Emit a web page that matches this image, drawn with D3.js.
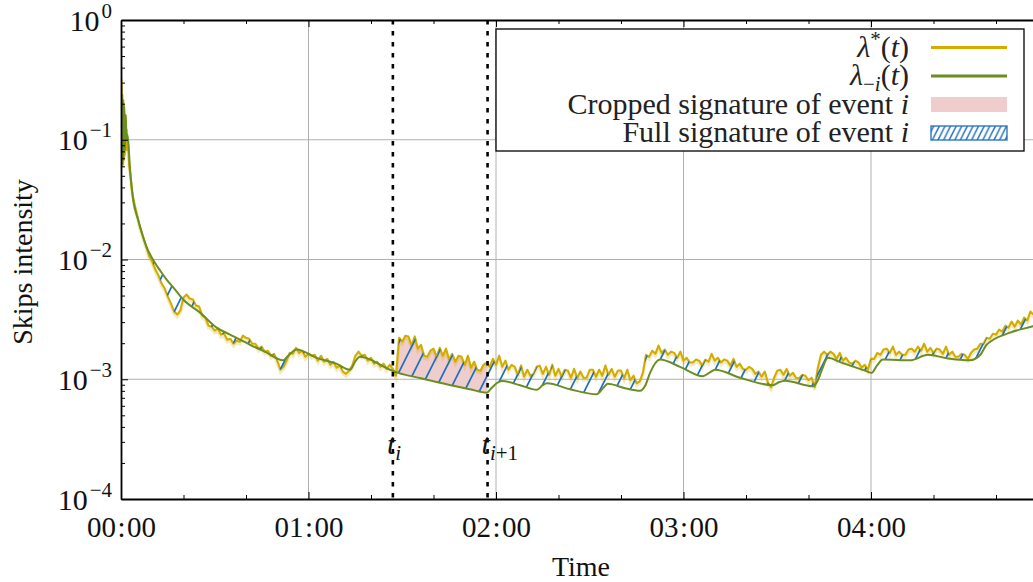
<!DOCTYPE html>
<html>
<head>
<meta charset="utf-8">
<script src="https://cdn.jsdelivr.net/npm/d3@7/dist/d3.min.js"></script>
<style>
  html, body { margin: 0; padding: 0; background: #fff; }
  svg { display: block; }
  svg text { font-family: "Liberation Serif", "Times New Roman", serif; }
</style>
</head>
<body>
<svg id="chart" width="1033" height="582"></svg>
<script>
// ---------------------------------------------------------------
// Data (time in minutes since 00:00, intensity in events / second)
// ---------------------------------------------------------------

// Observed intensity lambda*(t): dense burst at the start, then one value per minute
const starTimes = [0, 0.15, 0.3, 0.45, 0.6, 0.75, 0.9, 1.05, 1.2, 1.4, 1.6, 1.8, 2, 2.3, 2.6, 3, 3.5]
  .concat(d3.range(4, 301));
const starValues = [
  // burst, 0 - 3.5 min
  1.10e-1, 3.15e-1, 8.2e-2, 2.36e-1, 6.2e-2, 2.15e-1, 6.8e-2, 1.84e-1, 7.5e-2, 1.61e-1,
  8.2e-2, 1.21e-1, 8.2e-2, 9.0e-2, 6.2e-2, 5.1e-2, 3.8e-2,
  // 4 - 88 min
  3.15e-2, 2.45e-2, 1.9e-2, 1.57e-2, 1.3e-2, 1.07e-2, 9.62e-3, 8.25e-3, 7.34e-3, 6.3e-3,
  5.72e-3, 4.9e-3, 4.28e-3, 3.67e-3, 3.47e-3, 3.75e-3, 4.81e-3, 5.1e-3, 4.72e-3, 4.63e-3,
  4.12e-3, 4.05e-3, 3.4e-3, 3.27e-3, 2.8e-3, 2.75e-3, 2.55e-3, 2.65e-3, 2.36e-3, 2.4e-3,
  2.14e-3, 2.18e-3, 1.98e-3, 2.1e-3, 2.06e-3, 2.31e-3, 2.22e-3, 2.18e-3, 1.98e-3, 1.98e-3,
  1.8e-3, 1.87e-3, 1.7e-3, 1.73e-3, 1.57e-3, 1.63e-3, 1.43e-3, 1.2e-3, 1.27e-3, 1.43e-3,
  1.66e-3, 1.63e-3, 1.83e-3, 1.66e-3, 1.73e-3, 1.54e-3, 1.63e-3, 1.57e-3, 1.6e-3, 1.43e-3,
  1.57e-3, 1.4e-3, 1.48e-3, 1.32e-3, 1.4e-3, 1.25e-3, 1.3e-3, 1.16e-3, 1.11e-3, 1.18e-3,
  1.3e-3, 1.57e-3, 1.7e-3, 1.57e-3, 1.6e-3, 1.43e-3, 1.51e-3, 1.35e-3, 1.4e-3, 1.27e-3,
  1.35e-3, 1.22e-3, 1.32e-3, 1.22e-3, 1.07e-3,
  // 89 - 168 min
  2.22e-3, 2.06e-3, 2.31e-3, 2.27e-3, 1.91e-3, 2.27e-3, 1.8e-3, 1.94e-3, 1.57e-3, 1.54e-3,
  1.73e-3, 1.8e-3, 1.54e-3, 1.83e-3, 1.57e-3, 1.8e-3, 1.46e-3, 1.63e-3, 1.4e-3, 1.57e-3,
  1.54e-3, 1.32e-3, 1.57e-3, 1.25e-3, 1.4e-3, 1.2e-3, 1.18e-3, 1.32e-3, 1.38e-3, 1.27e-3,
  1.48e-3, 1.32e-3, 1.57e-3, 1.27e-3, 1.43e-3, 1.2e-3, 1.32e-3, 1.27e-3, 1.09e-3, 1.3e-3,
  1.05e-3, 1.2e-3, 1.07e-3, 1.11e-3, 1.27e-3, 1.3e-3, 1.11e-3, 1.27e-3, 1.09e-3, 1.32e-3,
  1.07e-3, 1.22e-3, 1.05e-3, 1.2e-3, 1.18e-3, 1.03e-3, 1.22e-3, 1.02e-3, 1.16e-3, 1.03e-3,
  1.03e-3, 1.2e-3, 1.2e-3, 1.05e-3, 1.2e-3, 1.07e-3, 1.3e-3, 1.09e-3, 1.22e-3, 1.05e-3,
  1.18e-3, 1.18e-3, 1.02e-3, 1.2e-3, 9.81e-4, 1.07e-3, 9.26e-4, 9.62e-4, 1.13e-3, 1.6e-3,
  // 169 - 272 min
  1.54e-3, 1.73e-3, 1.63e-3, 1.91e-3, 1.66e-3, 1.77e-3, 1.6e-3, 1.7e-3, 1.66e-3, 1.51e-3,
  1.7e-3, 1.43e-3, 1.51e-3, 1.38e-3, 1.38e-3, 1.46e-3, 1.43e-3, 1.3e-3, 1.46e-3, 1.4e-3,
  1.63e-3, 1.43e-3, 1.51e-3, 1.38e-3, 1.46e-3, 1.43e-3, 1.3e-3, 1.48e-3, 1.27e-3, 1.35e-3,
  1.22e-3, 1.2e-3, 1.27e-3, 1.22e-3, 1.11e-3, 1.16e-3, 1.05e-3, 1.16e-3, 9.44e-4, 8.57e-4,
  1.03e-3, 1.18e-3, 1.2e-3, 1.09e-3, 1.22e-3, 1.07e-3, 1.13e-3, 1.03e-3, 1.02e-3, 1.09e-3,
  1.07e-3, 9.81e-4, 1.03e-3, 8.57e-4, 1.25e-3, 1.6e-3, 1.7e-3, 1.6e-3, 1.7e-3, 1.63e-3,
  1.48e-3, 1.66e-3, 1.43e-3, 1.51e-3, 1.38e-3, 1.35e-3, 1.43e-3, 1.38e-3, 1.25e-3, 1.32e-3,
  1.2e-3, 1.48e-3, 1.48e-3, 1.66e-3, 1.6e-3, 1.77e-3, 1.8e-3, 1.66e-3, 1.87e-3, 1.6e-3,
  1.7e-3, 1.6e-3, 1.6e-3, 1.77e-3, 1.8e-3, 1.7e-3, 1.87e-3, 1.73e-3, 1.98e-3, 1.7e-3,
  1.83e-3, 1.66e-3, 1.8e-3, 1.77e-3, 1.63e-3, 1.87e-3, 1.6e-3, 1.7e-3, 1.54e-3, 1.54e-3,
  1.63e-3, 1.6e-3, 1.48e-3, 1.66e-3,
  // 273 - 300 min
  1.77e-3, 1.8e-3, 1.98e-3, 1.98e-3, 2.22e-3, 2.18e-3, 2.4e-3, 2.36e-3, 2.6e-3, 2.5e-3,
  2.8e-3, 2.7e-3, 3.03e-3, 2.75e-3, 3.09e-3, 2.86e-3, 3.27e-3, 3.09e-3, 3.67e-3, 3.47e-3,
  3.89e-3, 3.67e-3, 4.2e-3, 3.97e-3, 4.45e-3, 4.2e-3, 4.72e-3, 4.54e-3
];

// Intensity with event i removed, lambda_{-i}(t)
const minusTimes = [
  0, 0.2, 0.4, 0.6, 0.8, 1.0, 1.25, 1.5, 1.8, 2.1, 2.9, 3.9, 5.5, 8.2, 10.9, 12.5, 14.6, 17.3, 19.9, 25.3,
  30.6, 34.9, 41.3, 46, 51.9, 53.5, 56.2, 62.6, 68.9, 73.3, 74.9, 76.5, 86.1, 88.7, 96, 104.2, 111.7, 117,
  118.5, 120.2, 121.9, 127.7, 133.1, 134.9, 136.3, 143.7, 152.2, 154.5, 155.8, 161.3, 166.1, 167.8, 169.3,
  172.5, 178.9, 186.2, 188.2, 190.1, 198.1, 208.6, 210.5, 212.5, 221.4, 223.0, 224.3, 226.2, 230.1, 238.5,
  240.2, 241.9, 243.8, 252.5, 258.2, 264.2, 271.7, 275, 277, 284.5, 291.8, 300
];
const minusValues = [
  8.2e-2, 2.46e-1, 6.2e-2, 2.15e-1, 6.8e-2, 1.95e-1, 8.2e-2, 1.61e-1, 1.0e-1, 1.1e-1, 5.6e-2, 3.15e-2,
  2.14e-2, 1.27e-2, 9.35e-3, 8.09e-3, 6.8e-3, 5.61e-3, 4.63e-3, 3.6e-3,
  2.7e-3, 2.36e-3, 1.94e-3, 1.7e-3, 1.44e-3, 1.57e-3, 1.77e-3, 1.51e-3, 1.35e-3, 1.2e-3, 1.4e-3, 1.54e-3,
  1.2e-3, 1.13e-3, 1.02e-3, 9.08e-4, 8.25e-4, 7.73e-4,
  8.41e-4, 9.26e-4, 9.68e-4, 8.91e-4, 8.17e-4, 8.91e-4, 9.26e-4, 8.25e-4, 7.49e-4, 8.57e-4, 9.17e-4,
  8.41e-4, 8.01e-4, 8.91e-4, 1.13e-3,
  1.46e-3, 1.27e-3, 1.06e-3, 1.13e-3, 1.2e-3, 1.03e-3, 8.91e-4, 9.44e-4, 9.72e-4, 8.74e-4, 9.81e-4,
  1.2e-3, 1.51e-3, 1.39e-3, 1.17e-3,
  1.13e-3, 1.3e-3, 1.46e-3, 1.44e-3, 1.6e-3, 1.5e-3, 1.44e-3, 1.6e-3, 1.94e-3, 2.45e-3, 2.77e-3, 3.27e-3
];

// Event i and the following event i+1 (minutes)
const eventTimes = [87, 117.3];

// Axis ticks
const hourTicks = [0, 60, 120, 180, 240];
const hourLabels = ["00:00", "01:00", "02:00", "03:00", "04:00"];
const minorTimeTicks = [20, 40, 80, 100, 140, 160, 200, 220, 260, 280];
const decadeTicks = [1e-4, 1e-3, 1e-2, 1e-1, 1];
const decadeExponents = ["\u22124", "\u22123", "\u22122", "\u22121", "0"];

// ---------------------------------------------------------------
// Layout and styles
// ---------------------------------------------------------------
const FONT = "'Liberation Serif', 'Times New Roman', serif";
const COL_STAR = "#d2ad00";
const COL_MINUS = "#6b8e23";
const COL_PINK = "#f0cdcd";
const COL_HATCH = "#1f6fbf";
const COL_GRID = "#b0b0b0";

const plot = { left: 121, top: 20, bottom: 499, right: 1058.5 };

const svg = d3.select("#chart");
const x = d3.scaleLinear().domain([0, 300]).range([plot.left, plot.right]);
const y = d3.scaleLog().domain([1e-4, 1]).range([plot.bottom, plot.top]);

const starData = starTimes.map((t, i) => ({ t, v: starValues[i] }));
const minusData = minusTimes.map((t, i) => ({ t, v: minusValues[i] }));

svg.append("rect").attr("width", 1033).attr("height", 582).attr("fill", "#fff");

// Curve generators
const belowStar = d3.area().x(d => x(d.t)).y0(plot.bottom).y1(d => y(d.v)).curve(d3.curveLinear);
const aboveStar = d3.area().x(d => x(d.t)).y0(plot.top).y1(d => y(d.v)).curve(d3.curveLinear);
const belowMinus = d3.area().x(d => x(d.t)).y0(plot.bottom).y1(d => y(d.v)).curve(d3.curveMonotoneX);
const aboveMinus = d3.area().x(d => x(d.t)).y0(plot.top).y1(d => y(d.v)).curve(d3.curveMonotoneX);
const lineStar = d3.line().x(d => x(d.t)).y(d => y(d.v)).curve(d3.curveLinear);
const lineMinus = d3.line().x(d => x(d.t)).y(d => y(d.v)).curve(d3.curveMonotoneX);

const defs = svg.append("defs");
defs.append("clipPath").attr("id", "plotClip")
  .append("rect")
  .attr("x", plot.left).attr("y", plot.top)
  .attr("width", plot.right - plot.left).attr("height", plot.bottom - plot.top);
defs.append("clipPath").attr("id", "windowClip")
  .append("rect")
  .attr("x", x(eventTimes[0])).attr("y", plot.top)
  .attr("width", x(eventTimes[1]) - x(eventTimes[0])).attr("height", plot.bottom - plot.top);
defs.append("clipPath").attr("id", "aboveMinusClip")
  .append("path").attr("d", aboveMinus(minusData));
defs.append("clipPath").attr("id", "aboveStarClip")
  .append("path").attr("d", aboveStar(starData));

function hatchPattern(id, w, sw) {
  const h = 2 * w;
  const p = defs.append("pattern").attr("id", id)
    .attr("patternUnits", "userSpaceOnUse")
    .attr("width", w).attr("height", h);
  p.append("path")
    .attr("d", `M0,${h} L${w},0 M${-w * 0.2},${h * 0.2} L${w * 0.2},${-h * 0.2} M${w * 0.8},${h * 1.2} L${w * 1.2},${h * 0.8}`)
    .attr("stroke", COL_HATCH).attr("stroke-width", sw).attr("fill", "none");
}
hatchPattern("hatchMain", 15, 1.7);
hatchPattern("hatchLegend", 5.6, 1.4);

// ---------------------------------------------------------------
// Grid
// ---------------------------------------------------------------
const grid = svg.append("g").attr("stroke", COL_GRID).attr("stroke-width", 1);
grid.selectAll("line.v").data(hourTicks.filter(d => d > 0)).join("line")
  .attr("x1", d => x(d)).attr("x2", d => x(d))
  .attr("y1", plot.top).attr("y2", plot.bottom);
grid.selectAll("line.h").data(decadeTicks.filter(d => d > 1e-4 && d < 1)).join("line")
  .attr("x1", plot.left).attr("x2", plot.right)
  .attr("y1", d => y(d)).attr("y2", d => y(d));

// ---------------------------------------------------------------
// Signatures (region between the two intensities) and curves
// ---------------------------------------------------------------
const marks = svg.append("g").attr("clip-path", "url(#plotClip)");

// region between the curves = (below lambda* and above lambda_-i) + (below lambda_-i and above lambda*)
function betweenFill(parent, fill) {
  parent.append("g").attr("clip-path", "url(#aboveMinusClip)")
    .append("path").attr("d", belowStar(starData)).attr("fill", fill);
  parent.append("g").attr("clip-path", "url(#aboveStarClip)")
    .append("path").attr("d", belowMinus(minusData)).attr("fill", fill);
}

// cropped signature: between t_i and t_{i+1}
betweenFill(marks.append("g").attr("clip-path", "url(#windowClip)"), COL_PINK);

// soft band under the fast-oscillating observed intensity
marks.append("path")
  .attr("d", lineStar(starData))
  .attr("transform", "translate(0,2.5)")
  .attr("fill", "none").attr("stroke", COL_STAR)
  .attr("stroke-width", 3).attr("stroke-opacity", 0.25);

// observed intensity
marks.append("path")
  .attr("d", lineStar(starData))
  .attr("fill", "none").attr("stroke", COL_STAR)
  .attr("stroke-width", 2.1).attr("stroke-linejoin", "round");

// full signature hatch
betweenFill(marks.append("g"), "url(#hatchMain)");

// intensity without event i
marks.append("path")
  .attr("d", lineMinus(minusData))
  .attr("fill", "none").attr("stroke", COL_MINUS)
  .attr("stroke-width", 2);

// Event markers
svg.append("g").selectAll("line").data(eventTimes).join("line")
  .attr("x1", d => x(d)).attr("x2", d => x(d))
  .attr("y1", plot.top).attr("y2", plot.bottom)
  .attr("stroke", "#000").attr("stroke-width", 2.6)
  .attr("stroke-dasharray", "4.5 6.5");

// ---------------------------------------------------------------
// Axes
// ---------------------------------------------------------------
function styleAxis(g, hideDomain) {
  g.attr("font-family", FONT).attr("font-size", null);
  g.selectAll(".tick line").attr("stroke", "#000").attr("stroke-width", 1);
  g.select(".domain").attr("stroke", "#000").attr("stroke-width", 1.8)
    .attr("display", hideDomain ? "none" : null);
  g.selectAll(".tick text").remove();
}

const xBottom = svg.append("g").attr("transform", `translate(0,${plot.bottom})`)
  .call(d3.axisBottom(x).tickValues(hourTicks).tickSizeInner(-7).tickSizeOuter(0));
styleAxis(xBottom, false);
const xBottomMinor = svg.append("g").attr("transform", `translate(0,${plot.bottom})`)
  .call(d3.axisBottom(x).tickValues(minorTimeTicks).tickSizeInner(-4).tickSizeOuter(0));
styleAxis(xBottomMinor, true);

const xTop = svg.append("g").attr("transform", `translate(0,${plot.top})`)
  .call(d3.axisTop(x).tickValues(hourTicks).tickSizeInner(-7).tickSizeOuter(0));
styleAxis(xTop, false);
const xTopMinor = svg.append("g").attr("transform", `translate(0,${plot.top})`)
  .call(d3.axisTop(x).tickValues(minorTimeTicks).tickSizeInner(-4).tickSizeOuter(0));
styleAxis(xTopMinor, true);

const minorDecades = [];
for (let e = -4; e < 0; e++) for (let k = 2; k <= 9; k++) minorDecades.push(k * Math.pow(10, e));

const yLeft = svg.append("g").attr("transform", `translate(${plot.left},0)`)
  .call(d3.axisLeft(y).tickValues(decadeTicks).tickSizeInner(-7).tickSizeOuter(0));
styleAxis(yLeft, false);
const yLeftMinor = svg.append("g").attr("transform", `translate(${plot.left},0)`)
  .call(d3.axisLeft(y).tickValues(minorDecades).tickSizeInner(-4).tickSizeOuter(0));
styleAxis(yLeftMinor, true);

// Rich text made of styled runs
function runs(textSel, parts) {
  parts.forEach(p => {
    const t = textSel.append("tspan").text(p.text);
    if (p.italic) t.attr("font-style", "italic");
    if (p.size) t.attr("font-size", p.size);
    if (p.dx) t.attr("dx", p.dx);
    if (p.dy) t.attr("dy", p.dy);
  });
}

xBottom.selectAll(".tick").each(function (d) {
  const label = hourLabels[hourTicks.indexOf(d)];
  const [hh, mm] = label.split(":");
  const t = d3.select(this).append("text")
    .attr("y", 38).attr("text-anchor", "middle")
    .attr("font-family", FONT).attr("font-size", 29).attr("fill", "#111");
  runs(t, [{ text: hh }, { text: ":", dx: 1.5 }, { text: mm, dx: 1.5 }]);
});

yLeft.selectAll(".tick").each(function (d) {
  const exp = decadeExponents[decadeTicks.indexOf(d)];
  const t = d3.select(this).append("text")
    .attr("x", -9).attr("y", 10).attr("text-anchor", "end")
    .attr("font-family", FONT).attr("font-size", 30).attr("fill", "#111");
  runs(t, [{ text: "10" }, { text: exp, size: 21, dx: 2, dy: -13 }]);
});

// Axis titles
svg.append("text")
  .attr("x", 581).attr("y", 576).attr("text-anchor", "middle")
  .attr("font-family", FONT).attr("font-size", 28).attr("fill", "#111").text("Time");
svg.append("text")
  .attr("transform", "translate(32,262) rotate(-90)").attr("text-anchor", "middle")
  .attr("font-family", FONT).attr("font-size", 28).attr("fill", "#111").text("Skips intensity");

// Event labels t_i and t_{i+1}
const eventLabelRuns = [
  [{ text: "t", italic: true }, { text: "i", italic: true, size: 21, dy: 6 }],
  [{ text: "t", italic: true }, { text: "i", italic: true, size: 21, dy: 6 }, { text: "+1", size: 21 }]
];
eventTimes.forEach((tv, i) => {
  const t = svg.append("text")
    .attr("x", x(tv) - 6).attr("y", 454)
    .attr("font-family", FONT).attr("font-size", 30).attr("fill", "#111");
  runs(t, eventLabelRuns[i]);
});

// ---------------------------------------------------------------
// Legend
// ---------------------------------------------------------------
const legend = svg.append("g");
legend.append("rect")
  .attr("x", 496).attr("y", 29).attr("width", 528).attr("height", 122)
  .attr("fill", "#fff").attr("stroke", "#000").attr("stroke-width", 1.3);

const handleX0 = 931, handleX1 = 1007, textRight = 909;
const rowY = [47.5, 76, 104.5, 133];

legend.append("line").attr("x1", handleX0).attr("x2", handleX1)
  .attr("y1", rowY[0]).attr("y2", rowY[0]).attr("stroke", COL_STAR).attr("stroke-width", 3);
legend.append("line").attr("x1", handleX0).attr("x2", handleX1)
  .attr("y1", rowY[1]).attr("y2", rowY[1]).attr("stroke", COL_MINUS).attr("stroke-width", 3);
legend.append("rect").attr("x", handleX0).attr("y", rowY[2] - 7.5)
  .attr("width", handleX1 - handleX0).attr("height", 15).attr("fill", COL_PINK);
legend.append("rect").attr("x", handleX0).attr("y", rowY[3] - 7)
  .attr("width", handleX1 - handleX0).attr("height", 14)
  .attr("fill", "url(#hatchLegend)").attr("stroke", COL_HATCH).attr("stroke-width", 1.3);

const legendRows = [
  [{ text: "\u03bb", italic: true }, { text: "*", size: 21, dy: -11 }, { text: "(", dy: 11 }, { text: "t", italic: true }, { text: ")" }],
  [{ text: "\u03bb", italic: true }, { text: "\u2212", size: 21, dy: 6 }, { text: "i", italic: true, size: 21 }, { text: "(", dy: -6 }, { text: "t", italic: true }, { text: ")" }],
  [{ text: "Cropped signature of event " }, { text: "i", italic: true }],
  [{ text: "Full signature of event " }, { text: "i", italic: true }]
];
legendRows.forEach((parts, i) => {
  const t = legend.append("text")
    .attr("x", textRight).attr("y", rowY[i] + 9)
    .attr("text-anchor", "end")
    .attr("font-family", FONT).attr("font-size", 30).attr("fill", "#222");
  runs(t, parts);
});
</script>
</body>
</html>
